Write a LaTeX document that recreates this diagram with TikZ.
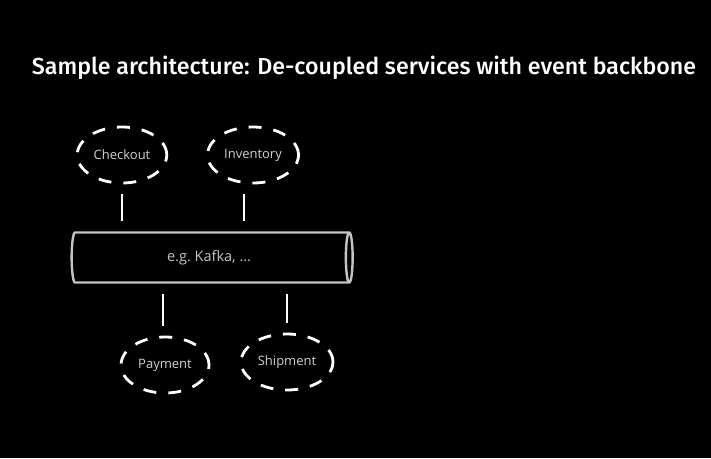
\documentclass[tikz,border=0pt]{standalone}
\usepackage{fontspec}
\setmainfont{Open Sans}
\newfontfamily\titlefont{Fira Sans Medium}
\usetikzlibrary{shapes.geometric}
\definecolor{pipegray}{HTML}{C4C4C4}
\definecolor{labelgray}{HTML}{D0D0D0}
\tikzset{
  service/.style={ellipse, draw=white, line width=2.8pt, dash pattern=on 13pt off 12pt,
    minimum width=88pt, minimum height=56pt, text=labelgray, font=\fontsize{13}{15}\selectfont},
  link/.style={draw=white, line width=2.4pt, shorten <=10pt, shorten >=10pt},
  backbone/.style={cylinder, draw=pipegray, line width=2.4pt, aspect=0.32,
    minimum height=281pt, minimum width=50pt, text=pipegray, font=\fontsize{14.5}{17}\selectfont}
}
\begin{document}
\begin{tikzpicture}[x=1pt,y=-1pt]
\fill[black] (0,0) rectangle (711,458);
\useasboundingbox (0,0) rectangle (711,458);
\node[text=white, font=\titlefont\fontsize{23.2}{28}\selectfont] (title) at (364,68) {Sample architecture: De-coupled services with event backbone};
% services and the event pipe
\node[service] (checkout) at (122,155) {Checkout};
\node[service] (inventory) at (253,155) {Inventory};
\node[backbone] (bus) at (209,257.5) {e.g.\ Kafka, \dots};
\node[service] (payment) at (165,365) {Payment};
\node[service] (shipment) at (287,362) {Shipment};
% links to the pipe
\draw[link] (checkout.south) -- (checkout.south |- bus.north);
\draw[link] ([xshift=-9pt]inventory.south) -- ([xshift=-9pt]inventory.south |- bus.north);
\draw[link] ([xshift=-2pt]payment.north |- bus.south) -- ([xshift=-2pt]payment.north);
\draw[link] (shipment.north |- bus.south) -- (shipment.north);
\end{tikzpicture}
\end{document}
